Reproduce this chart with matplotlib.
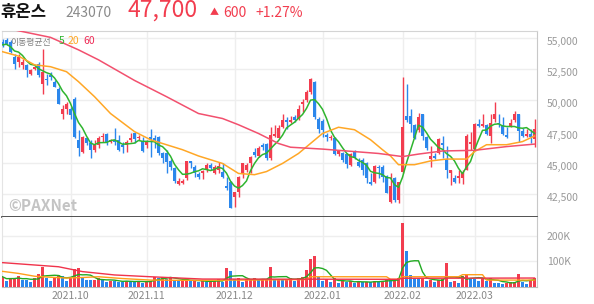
import numpy as np
import pandas as pd
import matplotlib
matplotlib.use('Agg')
import matplotlib.pyplot as plt
from matplotlib.transforms import ScaledTranslation

plt.rcParams['font.family'] = ['Noto Sans CJK KR', 'DejaVu Sans']

# 일봉 (2021.09.03 ~ 2022.03.24), 원
opens = [54700, 54850, 54700, 53500, 53100, 52850, 52850, 52150, 52500, 52950,
         51350, 51750, 52050, 51500, 50950, 48950, 49350, 49350, 50150, 46800,
         45900, 46950, 46550, 46050, 46400, 47050, 47300, 46700, 46800, 46800,
         46400, 46400, 46850, 47350, 46950, 46750, 46400, 47050, 46950, 47050,
         45750, 45800, 45150, 44600, 43300, 43350, 43750, 45150, 44700, 44100,
         44200, 44400, 44800, 44150, 44450, 44300, 43150, 43500, 42300, 42700,
         44200, 44400, 44950, 45900, 45550, 46450, 46500, 45350, 47150, 47000,
         47900, 48400, 48300, 48700, 48500, 49700, 50050, 50700, 51500, 48550,
         48350, 47200, 46950, 46950, 45700, 45800, 45700, 44800, 45950, 45100,
         45200, 44950, 43500, 43500, 44700, 44700, 43950, 41900, 43750, 42050,
         44300, 48750, 48750, 48050, 47600, 48900, 47100, 45300, 45550, 45800,
         46600, 45300, 44150, 43800, 43750, 43750, 44450, 46500, 46100, 48150,
         47950, 48050, 47150, 48500, 48150, 48050, 47250, 47900, 48400, 48900,
         47550, 47150, 47300, 46900]
highs = [54900, 55000, 54850, 53750, 53750, 53350, 52950, 52550, 52750, 53100,
         54150, 52150, 52300, 51650, 51100, 49650, 49900, 49500, 50300, 47600,
         47150, 47100, 46800, 46800, 47150, 47350, 47400, 46900, 47750, 47250,
         46700, 46800, 47350, 47500, 47200, 47100, 46800, 47700, 47200, 47150,
         45900, 46050, 45300, 44700, 43750, 43700, 45150, 45150, 44800, 44300,
         44400, 44950, 44950, 44800, 45100, 44950, 43900, 43550, 42700, 43950,
         45000, 44950, 45550, 46150, 46350, 46550, 46550, 47900, 48050, 48050,
         48950, 48650, 48750, 48850, 49650, 50150, 50850, 51800, 51550, 48650,
         48550, 47350, 47250, 47050, 46050, 45900, 45750, 45750, 46000, 45350,
         45350, 45100, 44200, 44800, 44800, 44850, 44000, 44200, 43900, 43500,
         51900, 51350, 49300, 48150, 49000, 48950, 47150, 46350, 45750, 46950,
         47150, 46350, 44450, 44050, 44450, 44450, 47300, 47500, 48200, 48550,
         48950, 48150, 48950, 49900, 48950, 48650, 47900, 48500, 49150, 48950,
         47750, 47700, 47700, 48550]
lows = [54300, 54450, 53800, 52550, 52700, 52550, 51900, 52050, 52400, 51900,
        50550, 51250, 51650, 51050, 49700, 48550, 48950, 48500, 46950, 45550,
        45750, 46400, 45350, 45900, 46150, 46700, 46400, 46550, 46400, 45950,
        45750, 45900, 46700, 46550, 46800, 45900, 46150, 45500, 46150, 45600,
        45000, 44150, 44400, 43350, 43200, 43300, 43650, 44550, 43900, 43700,
        43700, 44300, 44450, 44100, 44150, 43750, 42850, 41400, 41500, 42300,
        43750, 44300, 44150, 45500, 45450, 46000, 45250, 45250, 47100, 46950,
        47750, 47700, 48200, 48300, 48450, 49100, 49900, 50550, 48550, 47350,
        47100, 46750, 46800, 45650, 45550, 45100, 44550, 44750, 45300, 44700,
        44050, 43350, 43200, 43400, 43750, 43500, 42550, 41800, 41900, 41800,
        44150, 48300, 47500, 46900, 47500, 46850, 46050, 44700, 45300, 45700,
        45350, 43750, 43200, 43350, 43350, 43300, 44400, 46050, 46050, 47900,
        47900, 47200, 46550, 48300, 47900, 47200, 46950, 47850, 48300, 46700,
        47050, 47050, 46600, 46250]
closes = [54450, 54550, 53900, 52950, 53500, 53100, 52450, 52450, 52650, 52050,
          52300, 51650, 51900, 51100, 49750, 49350, 49750, 48800, 47100, 46150,
          47100, 46550, 46050, 46400, 46950, 47150, 46600, 46800, 46700, 46050,
          46300, 46700, 46950, 46900, 47100, 45950, 46700, 46900, 46800, 45750,
          45350, 45100, 44650, 43550, 43550, 43550, 45150, 45000, 44200, 43900,
          44350, 44850, 44600, 44650, 44750, 43900, 42950, 41400, 42700, 43900,
          44950, 44800, 45500, 45600, 46150, 46250, 45350, 47250, 47300, 47750,
          48400, 48250, 48450, 48400, 49350, 49900, 50700, 51750, 48650, 47700,
          47650, 47050, 47100, 45700, 45950, 45250, 44900, 45700, 45350, 44750,
          44450, 43750, 43300, 44750, 44550, 43900, 42600, 43150, 42050, 43500,
          47900, 48400, 48150, 46950, 48650, 47150, 46150, 45550, 45350, 46900,
          46450, 44450, 44450, 43500, 43950, 44300, 47150, 46650, 48150, 47950,
          48100, 47300, 48200, 48900, 48100, 47300, 47050, 48200, 48900, 47550,
          47150, 47300, 47100, 47700]
# 거래량 (천주)
volumes = [40, 25, 33, 34, 43, 27, 26, 21, 34, 51,
           79, 34, 25, 40, 46, 43, 25, 34, 69, 73,
           36, 27, 26, 27, 34, 31, 21, 25, 23, 21,
           20, 25, 21, 20, 23, 17, 23, 25, 40, 36,
           40, 31, 40, 27, 25, 27, 30, 23, 23, 21,
           25, 18, 23, 25, 30, 20, 73, 62, 30, 34,
           21, 30, 31, 34, 27, 28, 30, 79, 31, 32,
           30, 31, 34, 25, 36, 40, 66, 109, 121, 40,
           25, 30, 21, 34, 17, 23, 21, 23, 17, 21,
           18, 21, 18, 25, 21, 25, 30, 23, 27, 36,
           251, 142, 47, 36, 35, 36, 23, 27, 21, 27,
           30, 95, 21, 22, 17, 43, 49, 36, 30, 25,
           36, 25, 36, 17, 16, 12, 17, 18, 19, 51,
           21, 12, 27, 34]

# 이동평균선
ma20_idx = [0, 4, 8, 12, 16, 19, 23, 27, 33, 37, 41, 45, 49, 51, 55, 59, 63, 66,
            70, 74, 77, 80, 84, 88, 92, 95, 97, 99, 103, 107, 111, 116, 118, 121,
            126, 130, 133]
ma20_val = [53900, 53550, 52850, 52700, 52300, 51500, 50300, 48950, 47500, 46850,
            46450, 46050, 45550, 45350, 44950, 44150, 44050, 44300, 44950, 45750,
            46550, 47350, 47850, 47650, 46850, 46050, 45550, 44850, 44850, 45150,
            45300, 45300, 45900, 46450, 46450, 46700, 47150]
ma60_idx = [0, 4, 12, 19, 24, 33, 41, 49, 55, 59, 64, 69, 72, 80, 88, 94, 100,
            104, 110, 118, 126, 133]
ma60_val = [55850, 55580, 55050, 54050, 53250, 51600, 50300, 48950, 48550, 48050,
            47350, 46550, 46250, 46100, 45900, 45750, 45500, 45700, 45950, 46000,
            46300, 46500]
vma20_idx = [0, 4, 8, 12, 16, 20, 24, 30, 37, 45, 60, 76, 77, 96, 97, 99, 100,
             114, 115, 120, 121, 133]
vma20_val = [61, 53, 42, 38, 35, 37, 40, 33, 27, 26, 27, 29, 40, 40, 30, 30, 40,
             40, 48, 48, 27, 27]
vma60_idx = [0, 14, 20, 28, 37, 50, 99, 100, 133]
vma60_val = [95, 79, 60, 47, 40, 31, 30, 34, 35]

month_pos = [17, 36, 58, 80, 100, 118]
month_labels = ['2021.10', '2021.11', '2021.12', '2022.01', '2022.02', '2022.03']
price_ticks = [42500, 45000, 47500, 50000, 52500, 55000]
vol_ticks = [100, 200]

RED = '#f23d4f'
BLUE = '#2b87ec'
GREEN = '#2fb52f'
ORANGE = '#ffa726'
PINK = '#f2506e'

o = np.array(opens); h = np.array(highs); l = np.array(lows); c = np.array(closes)
v = np.array(volumes) * 1000
x = np.arange(len(c))
up = c >= o
col = np.where(up, RED, BLUE)

fig = plt.figure(figsize=(5.94, 3.04), dpi=100)
ax = fig.add_axes([2/594, 1-217/304, 535.3/594, 186.5/304])
axv = fig.add_axes([2/594, 1-287/304, 535.3/594, 70/304])

# 캔들
ax.vlines(x, l, h, colors=col, lw=1, zorder=3)
body_lo = np.minimum(o, c)
body_h = np.maximum(np.abs(c - o), 70)
ax.bar(x, body_h, bottom=body_lo, width=0.75, color=col, lw=0, zorder=4)

ma5 = pd.Series(c).rolling(5, min_periods=1).mean()
ax.plot(x, ma5, color=GREEN, lw=1.1, zorder=5)
ax.plot(ma20_idx, ma20_val, color=ORANGE, lw=1.1, zorder=5)
ax.plot(ma60_idx, ma60_val, color=PINK, lw=1.1, zorder=5)

ax.set_xlim(-0.125, 133.7)
ax.set_ylim(40660, 55600)
ax.set_yticks(price_ticks)
ax.set_yticklabels([f'{t:,}' for t in price_ticks])
ax.yaxis.tick_right()
ax.tick_params(axis='y', length=0, pad=7, labelsize=7.5, colors='#999999')
ax.set_xticks(month_pos)
ax.tick_params(axis='x', length=0, labelbottom=False)
ax.grid(True, color='#eeeeee', lw=1)
ax.set_axisbelow(True)
for lab in ax.get_yticklabels():
    lab.set_transform(lab.get_transform() + ScaledTranslation(0, -3/100, fig.dpi_scale_trans))

# 거래량
prev = np.concatenate([[v[0]], v[:-1]])
vcol = np.where(v >= prev, RED, BLUE)
axv.bar(x, v, width=0.8, color=vcol, lw=0, zorder=3)
vma5 = pd.Series(v).rolling(5, min_periods=1).mean()
axv.plot(x, vma5, color='#22aa22', lw=1, zorder=4)
axv.plot(vma20_idx, np.array(vma20_val) * 1000, color='#ff9f1a', lw=1, zorder=4)
axv.plot(vma60_idx, np.array(vma60_val) * 1000, color='#f0334b', lw=1, zorder=4)
axv.set_xlim(-0.125, 133.7)
axv.set_ylim(0, 273000)
axv.set_yticks([t * 1000 for t in vol_ticks])
axv.set_yticklabels([f'{t}K' for t in vol_ticks])
axv.yaxis.tick_right()
axv.tick_params(axis='y', length=0, pad=7, labelsize=7.5, colors='#999999')
axv.set_xticks(month_pos)
axv.set_xticklabels(month_labels)
axv.tick_params(axis='x', length=0, pad=3, labelsize=7.5, colors='#888888')
axv.grid(True, color='#eeeeee', lw=1)
axv.set_axisbelow(True)

for a in (ax, axv):
    a.spines['left'].set_color('#e4e4e4')
    a.spines['right'].set_color('#c8c8c8')
ax.spines['top'].set_color('#d4d4d4')
ax.spines['bottom'].set_color('#333333')
ax.spines['bottom'].set_linewidth(1.2)
axv.spines['top'].set_visible(False)
axv.spines['bottom'].set_color('#bbbbbb')

ax.text(0.012, 0.03, '©PAXNet', transform=ax.transAxes, fontsize=11,
        fontweight='bold', color='#c4c4c4', zorder=2)

# 헤더
yb = 1 - 17/304
fig.text(0/594, yb, '휴온스', fontsize=12, fontweight='bold', color='#111111', va='baseline')
fig.text(65/594, yb, '243070', fontsize=10, color='#8a8a8a', va='baseline')
fig.text(127/594, yb, '47,700', fontsize=16.5, color=RED, va='baseline')
fig.text(210/594, yb + 2/304, '▲', fontsize=6.5, color=RED, va='baseline')
fig.text(223/594, yb, '600', fontsize=10, color=RED, va='baseline')
fig.text(255/594, yb, '+1.27%', fontsize=10, color=RED, va='baseline')

yl = 1 - 44.5/304
fig.text(10/594, yl, '이동평균선', fontsize=6.4, color='#808080', va='baseline')
fig.text(59/594, yl, '5', fontsize=7.5, color=GREEN, va='baseline')
fig.text(68/594, yl, '20', fontsize=7.5, color=ORANGE, va='baseline')
fig.text(83/594, yl, '60', fontsize=7.5, color='#ee2a55', va='baseline')

fig.savefig('out.png', dpi=100)
